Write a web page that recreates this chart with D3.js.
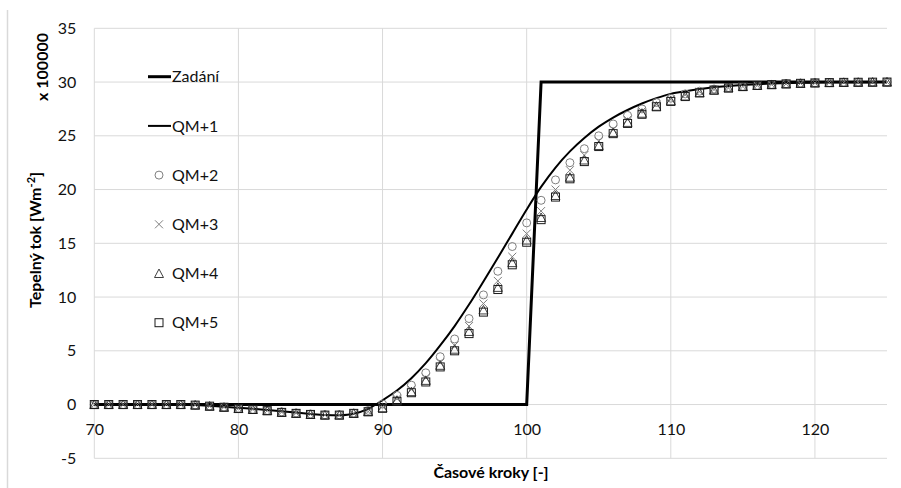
<!DOCTYPE html>
<html>

<head>
  <meta charset="utf-8">
  <title>Tepelny tok</title>
  <script src="https://cdn.jsdelivr.net/npm/d3@7"></script>
  <style>
    body { margin: 0; background: #fff; }
    text { font-family: Lato, "Open Sans", sans-serif; }
  </style>
</head>

<body>
  <svg width="901" height="488" id="mainsvg"></svg>
  <script>
    // casove kroky
    const steps = [70, 71, 72, 73, 74, 75, 76, 77, 78, 79, 80, 81, 82, 83, 84, 85, 86, 87, 88, 89,
      90, 91, 92, 93, 94, 95, 96, 97, 98, 99, 100, 101, 102, 103, 104, 105, 106, 107, 108, 109,
      110, 111, 112, 113, 114, 115, 116, 117, 118, 119, 120, 121, 122, 123, 124, 125];

    // hodnoty x 100000
    const zadani = [0, 0, 0, 0, 0, 0, 0, 0, 0, 0, 0, 0, 0, 0, 0, 0, 0, 0, 0, 0,
      0, 0, 0, 0, 0, 0, 0, 0, 0, 0, 0, 30, 30, 30, 30, 30, 30, 30, 30, 30,
      30, 30, 30, 30, 30, 30, 30, 30, 30, 30, 30, 30, 30, 30, 30, 30];
    const qm1 = [0, 0, 0, 0, 0, 0, 0, -0.05, -0.12, -0.2, -0.3, -0.4, -0.5, -0.62, -0.75, -0.87, -0.97, -1.0, -0.85, -0.4,
      0.4, 1.3, 2.45, 3.85, 5.5, 7.3, 9.3, 11.45, 13.65, 15.9, 18.15, 20.25, 22.05, 23.55, 24.8, 25.85, 26.7, 27.4, 28.0, 28.5,
      28.9, 29.15, 29.35, 29.52, 29.63, 29.72, 29.8, 29.86, 29.9, 29.93, 29.95, 29.97, 29.98, 29.99, 29.99, 30];
    const qm2 = [0, 0, 0, 0, 0, 0, 0, -0.05, -0.15, -0.25, -0.35, -0.45, -0.55, -0.68, -0.78, -0.88, -0.95, -0.95, -0.8, -0.55,
      0.05, 0.85, 1.8, 2.95, 4.45, 6.1, 8.0, 10.2, 12.4, 14.7, 16.9, 19.0, 20.9, 22.5, 23.8, 25.0, 26.1, 26.9, 27.5, 28.1,
      28.5, 28.9, 29.15, 29.35, 29.5, 29.6, 29.7, 29.78, 29.85, 29.9, 29.93, 29.95, 29.97, 29.98, 29.99, 30];
    const qm3 = [0, 0, 0, 0, 0, 0, 0, -0.05, -0.15, -0.25, -0.35, -0.45, -0.57, -0.7, -0.8, -0.9, -0.97, -0.98, -0.85, -0.65,
      -0.2, 0.55, 1.4, 2.5, 3.9, 5.5, 7.3, 9.4, 11.5, 13.75, 15.9, 18.0, 20.0, 21.8, 23.2, 24.5, 25.6, 26.5, 27.3, 27.9,
      28.4, 28.8, 29.1, 29.3, 29.45, 29.58, 29.68, 29.76, 29.83, 29.88, 29.92, 29.95, 29.97, 29.98, 29.99, 30];
    const qm4 = [0, 0, 0, 0, 0, 0, 0, -0.05, -0.15, -0.25, -0.37, -0.46, -0.57, -0.72, -0.82, -0.92, -0.98, -0.98, -0.82, -0.66,
      -0.3, 0.4, 1.2, 2.25, 3.65, 5.15, 6.8, 8.8, 10.9, 13.2, 15.3, 17.4, 19.45, 21.15, 22.75, 24.1, 25.3, 26.25, 27.1, 27.75,
      28.25, 28.7, 29.0, 29.25, 29.45, 29.58, 29.68, 29.76, 29.83, 29.88, 29.92, 29.95, 29.97, 29.98, 29.99, 30];
    const qm5 = [0, 0, 0, 0, 0, 0, 0, -0.05, -0.15, -0.25, -0.37, -0.46, -0.57, -0.73, -0.82, -0.92, -0.98, -0.98, -0.82, -0.67,
      -0.35, 0.3, 1.1, 2.1, 3.5, 5.0, 6.6, 8.6, 10.7, 13.0, 15.1, 17.2, 19.3, 21.0, 22.6, 24.0, 25.2, 26.15, 27.0, 27.7,
      28.2, 28.65, 29.0, 29.25, 29.45, 29.58, 29.68, 29.76, 29.83, 29.88, 29.92, 29.95, 29.97, 29.98, 29.99, 30];

    const seriesNames = ['Zadání', 'QM+1', 'QM+2', 'QM+3', 'QM+4', 'QM+5'];
    const yTicks = [-5, 0, 5, 10, 15, 20, 25, 30, 35];
    const xTicks = [70, 80, 90, 100, 110, 120];

    const svg = d3.select('#mainsvg');
    const plotLeft = 94.3, plotRight = 887, plotTop = 28.3, plotBottom = 458.3;

    const x = d3.scaleLinear().domain([70, 125]).range([plotLeft, plotRight]);
    const y = d3.scaleLinear().domain([-5, 35]).range([plotBottom, plotTop]);

    // ramecek grafu (levy okraj)
    svg.append('line')
      .attr('x1', 7.5).attr('x2', 7.5).attr('y1', 10).attr('y2', 488)
      .attr('stroke', '#d9d9d9').attr('stroke-width', 1.5);

    // mrizka
    svg.append('g').selectAll('line').data(yTicks).join('line')
      .attr('x1', plotLeft).attr('x2', plotRight)
      .attr('y1', d => y(d)).attr('y2', d => y(d))
      .attr('stroke', '#d9d9d9').attr('stroke-width', 1);
    svg.append('g').selectAll('line').data(xTicks).join('line')
      .attr('x1', d => x(d)).attr('x2', d => x(d))
      .attr('y1', plotTop).attr('y2', plotBottom)
      .attr('stroke', '#d9d9d9').attr('stroke-width', 1);

    // osy
    const yAxis = svg.append('g')
      .attr('transform', `translate(${plotLeft},0)`)
      .call(d3.axisLeft(y).tickValues(yTicks).tickFormat(d => String(d)).tickSize(0).tickPadding(18));
    const xAxis = svg.append('g')
      .attr('transform', `translate(0,${y(0)})`)
      .call(d3.axisBottom(x).tickValues(xTicks).tickFormat(d => String(d)).tickSize(0).tickPadding(19));
    [xAxis, yAxis].forEach(a => {
      a.select('.domain').remove();
      a.selectAll('text').attr('font-size', 16).attr('fill', '#111')
        .attr('font-family', 'Lato, "Open Sans", sans-serif');
    });

    // popisky os
    svg.append('text')
      .attr('x', 491).attr('y', 478)
      .attr('text-anchor', 'middle')
      .attr('font-size', 16).attr('font-weight', 'bold')
      .text('Časové kroky [-]');

    const yt = svg.append('text')
      .attr('transform', 'translate(41,240) rotate(-90)')
      .attr('text-anchor', 'middle')
      .attr('font-size', 16).attr('font-weight', 'bold');
    yt.append('tspan').text('Tepelný tok [Wm');
    yt.append('tspan').attr('font-size', 11).attr('dy', -6).text('-2');
    yt.append('tspan').attr('dy', 6).text(']');

    svg.append('text')
      .attr('transform', 'translate(48,67) rotate(-90)')
      .attr('text-anchor', 'middle')
      .attr('font-size', 16).attr('font-weight', 'bold')
      .text('x 100000');

    // znacky
    const markX = (g, cx, cy) => g.append('path')
      .attr('d', `M${cx - 4},${cy - 4}L${cx + 4},${cy + 4}M${cx - 4},${cy + 4}L${cx + 4},${cy - 4}`)
      .attr('stroke', '#7f7f7f').attr('stroke-width', 1).attr('fill', 'none');
    const markCircle = (g, cx, cy) => g.append('circle')
      .attr('cx', cx).attr('cy', cy).attr('r', 4)
      .attr('stroke', '#7f7f7f').attr('stroke-width', 1).attr('fill', 'none');
    const markTri = (g, cx, cy) => g.append('path')
      .attr('d', `M${cx},${cy - 4.5}L${cx + 4.5},${cy + 4}L${cx - 4.5},${cy + 4}Z`)
      .attr('stroke', '#404040').attr('stroke-width', 1).attr('fill', 'none');
    const markSquare = (g, cx, cy) => g.append('rect')
      .attr('x', cx - 4).attr('y', cy - 4).attr('width', 8).attr('height', 8)
      .attr('stroke', '#1a1a1a').attr('stroke-width', 1).attr('fill', 'none');

    const line = d3.line().x((d, i) => x(steps[i])).y(d => y(d));

    // Zadani
    svg.append('path').datum(zadani)
      .attr('d', line)
      .attr('fill', 'none').attr('stroke', '#000').attr('stroke-width', 3)
      .attr('stroke-linejoin', 'miter');

    // QM+1
    svg.append('path').datum(qm1)
      .attr('d', line.curve(d3.curveCatmullRom.alpha(0.5)))
      .attr('fill', 'none').attr('stroke', '#000').attr('stroke-width', 2);

    const markerSeries = [
      { values: qm2, mark: markCircle },
      { values: qm3, mark: markX },
      { values: qm4, mark: markTri },
      { values: qm5, mark: markSquare }
    ];
    markerSeries.forEach(s => {
      const g = svg.append('g');
      s.values.forEach((v, i) => s.mark(g, x(steps[i]), y(v)));
    });

    // legenda
    const legY = [76.7, 125.9, 175.1, 224.3, 273.5, 322.7];
    const leg = svg.append('g');
    leg.append('line').attr('x1', 148).attr('x2', 171).attr('y1', legY[0]).attr('y2', legY[0])
      .attr('stroke', '#000').attr('stroke-width', 3);
    leg.append('line').attr('x1', 148).attr('x2', 171).attr('y1', legY[1]).attr('y2', legY[1])
      .attr('stroke', '#000').attr('stroke-width', 2);
    markerSeries.forEach((s, i) => s.mark(leg, 159, legY[i + 2]));
    leg.selectAll('text').data(seriesNames).join('text')
      .attr('x', 172).attr('y', (d, i) => legY[i])
      .attr('dy', '0.36em')
      .attr('font-size', 16).attr('fill', '#111')
      .text(d => d);
  </script>
</body>

</html>
